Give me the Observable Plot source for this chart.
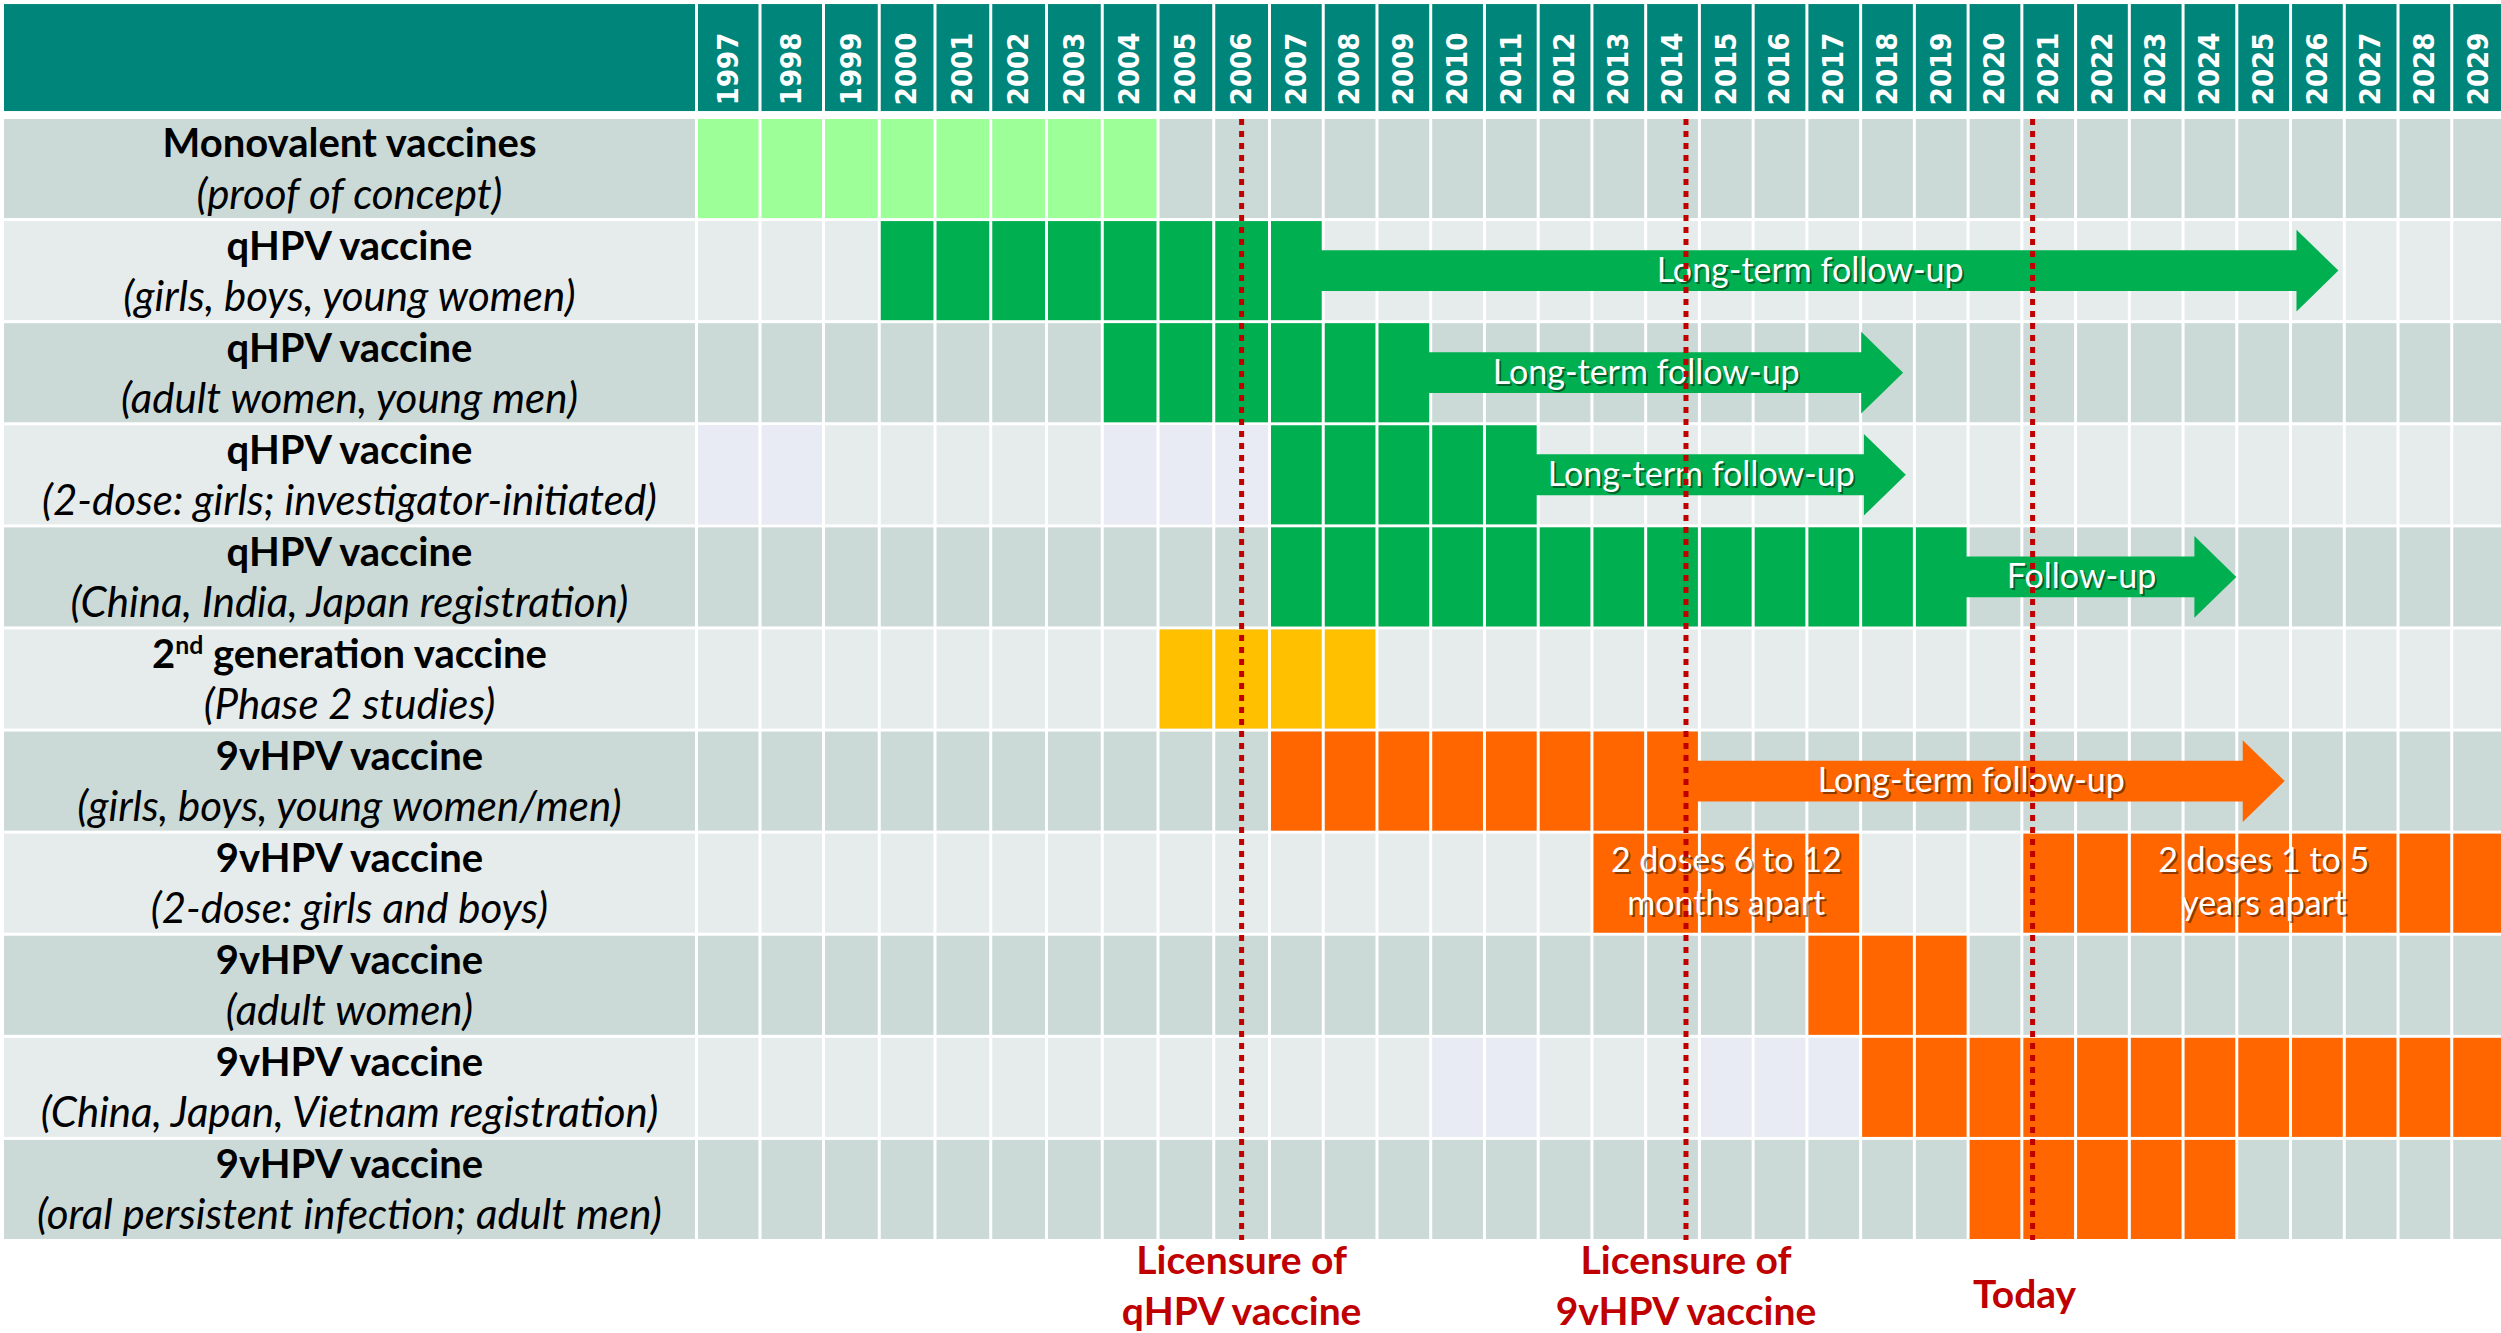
<!DOCTYPE html>
<html>
<head>
<meta charset="utf-8">
<script src="https://cdn.jsdelivr.net/npm/d3@7"></script>
<script src="https://cdn.jsdelivr.net/npm/@observablehq/plot@0.6"></script>
<style>
  html, body { margin: 0; padding: 0; background: #ffffff; }
  #chart svg { display: block; }
</style>
</head>
<body>
<div id="chart"></div>
<script>
// ---------------- DATA ----------------
const years = d3.range(1997, 2030);   // column headers 1997 … 2029

const rowTitles = [
  "Monovalent vaccines", "qHPV vaccine", "qHPV vaccine", "qHPV vaccine", "qHPV vaccine",
  "2nd generation vaccine", "9vHPV vaccine", "9vHPV vaccine", "9vHPV vaccine", "9vHPV vaccine", "9vHPV vaccine"
];
const rowSubtitles = [
  "(proof of concept)", "(girls, boys, young women)", "(adult women, young men)",
  "(2-dose: girls; investigator-initiated)", "(China, India, Japan registration)", "(Phase 2 studies)",
  "(girls, boys, young women/men)", "(2-dose: girls and boys)", "(adult women)",
  "(China, Japan, Vietnam registration)", "(oral persistent infection; adult men)"
];

// study periods (row index, first year, last year inclusive, vaccine)
const studyRow  = [0, 1, 2, 3, 4, 5, 6, 7, 7, 8, 9, 10];
const studyFrom = [1997, 2000, 2004, 2007, 2007, 2005, 2007, 2013, 2021, 2017, 2018, 2020];
const studyTo   = [2004, 2007, 2009, 2011, 2019, 2008, 2014, 2017, 2029, 2019, 2029, 2024];
const studyType = ["mono", "qHPV", "qHPV", "qHPV", "qHPV", "gen2", "9vHPV", "9vHPV", "9vHPV", "9vHPV", "9vHPV", "9vHPV"];

// tinted (shaded) cells
const shadeRow  = [3, 3, 3, 3, 3, 9, 9, 9, 9, 9];
const shadeYear = [1997, 1998, 2004, 2005, 2006, 2010, 2011, 2015, 2016, 2017];

// follow-up arrows
const arrowRow   = [1, 2, 3, 4, 6];
const arrowFrom  = [2008, 2010, 2012, 2020, 2015];
const arrowTip   = [2026.9, 2018.8, 2018.85, 2025.0, 2025.9];
const arrowLabel = ["Long-term follow-up", "Long-term follow-up", "Long-term follow-up", "Follow-up", "Long-term follow-up"];
const arrowType  = ["qHPV", "qHPV", "qHPV", "qHPV", "9vHPV"];

// notes written over study blocks
const noteRow  = [7, 7];
const noteFrom = [2013, 2021];
const noteTo   = [2017, 2029];
const noteText = ["2 doses 6 to 12\nmonths apart", "2 doses 1 to 5\nyears apart"];

// milestones (dashed lines)
const eventYear  = [2006.5, 2014.75, 2021.2];
const eventLabel = ["Licensure of\nqHPV vaccine", "Licensure of\n9vHPV vaccine", "Today"];

// ---------------- STYLE ----------------
const colors = {mono: "#9DFF97", qHPV: "#00B050", gen2: "#FFC000", "9vHPV": "#FF6600", shade: "#E9EBF4"};
const TEAL = "#00857A", DARK_ROW = "#CBDAD7", LIGHT_ROW = "#E6ECEB", RED = "#C00000";
const FONT = "Lato, 'Open Sans', sans-serif";
const HEADER_TOP = -1.126, HEADER_BOTTOM = -0.078, YEAR_LABEL_Y = -0.14;
const MID = 0.485, SHAFT = 0.2, HEAD = 0.4, HEAD_LEN = 0.78;

// ---------------- DERIVED TABLES ----------------
const rows = rowTitles.map((t, i) => ({i, title: t, sub: rowSubtitles[i]}));
const cells = [];
shadeRow.forEach((r, k) => cells.push({row: r, year: shadeYear[k], type: "shade"}));
studyRow.forEach((r, k) => {
  for (let y = studyFrom[k]; y <= studyTo[k]; y++) cells.push({row: r, year: y, type: studyType[k]});
});
const arrowPts = [];
const arrows = arrowRow.map((r, k) => {
  const c = r + MID, base = arrowTip[k] - HEAD_LEN, s = arrowFrom[k] - 0.04, fill = colors[arrowType[k]];
  arrowPts.push(
    {id: k, fill, x: s, y1: c - SHAFT, y2: c + SHAFT},
    {id: k, fill, x: base, y1: c - SHAFT, y2: c + SHAFT},
    {id: k, fill, x: base, y1: c - HEAD, y2: c + HEAD},
    {id: k, fill, x: arrowTip[k], y1: c, y2: c}
  );
  return {x: (arrowFrom[k] + base) / 2, y: c, label: arrowLabel[k]};
});
const notes = noteRow.map((r, k) => ({x: (noteFrom[k] + noteTo[k] + 1) / 2, y: r + MID - 0.04, text: noteText[k]}));
const events = eventYear.map((y, k) => ({year: y, label: eventLabel[k]}));
const multiLineEvents = events.filter(d => d.label.includes("\n"));
const singleLineEvents = events.filter(d => !d.label.includes("\n"));

const eventText = {fill: RED, fontFamily: FONT, fontWeight: "bold", fontSize: 39, lineHeight: 1.3, lineAnchor: "middle"};

// ---------------- PLOT ----------------
const plot = Plot.plot({
  width: 2501,
  height: 1333,
  marginLeft: 4, marginRight: 0, marginTop: 0, marginBottom: 0,
  x: {type: "linear", domain: [1997, 1999, 2007, 2030], range: [696, 823, 1269, 2505], axis: null},
  y: {type: "linear", domain: [0, 11], range: [119, 1242], axis: null},
  color: {type: "identity"},
  style: {background: "#ffffff"},
  marks: [
    // header band
    Plot.rect([0], {y1: () => HEADER_TOP, y2: () => HEADER_BOTTOM, fill: TEAL}),
    // row backgrounds (label column + grid)
    Plot.rect(rows, {y1: d => d.i, y2: d => d.i + 1, insetBottom: 3, fill: d => d.i % 2 === 0 ? DARK_ROW : LIGHT_ROW}),
    // coloured cells
    Plot.rect(cells, {x1: "year", x2: d => d.year + 1, y1: "row", y2: d => d.row + 1, insetBottom: 3, fill: d => colors[d.type]}),
    // white column separators
    Plot.ruleX(d3.range(1997, 2031), {x: d => d, y1: () => HEADER_TOP - 0.02, y2: () => 11, stroke: "#ffffff", strokeWidth: 3}),
    // year labels
    Plot.text(years, {x: d => d + 0.5, y: () => YEAR_LABEL_Y, text: d => String(d), rotate: -90, textAnchor: "start",
      lineAnchor: "middle", fill: "#ffffff", fontFamily: "'DejaVu Sans Condensed', 'DejaVu Sans', sans-serif",
      fontWeight: "bold", fontSize: 29}),
    // follow-up arrows
    Plot.areaY(arrowPts, {x: "x", y1: "y1", y2: "y2", z: "id", fill: "fill", curve: "linear"}),
    // arrow labels (shadow + text)
    Plot.text(arrows, {x: "x", y: "y", text: "label", fill: "#000000", fillOpacity: 0.45, dx: 2, dy: 2,
      fontFamily: FONT, fontSize: 34, lineAnchor: "middle"}),
    Plot.text(arrows, {x: "x", y: "y", text: "label", fill: "#ffffff", fontFamily: FONT, fontSize: 34, lineAnchor: "middle"}),
    // notes
    Plot.text(notes, {x: "x", y: "y", text: "text", fill: "#000000", fillOpacity: 0.45, dx: 2, dy: 2,
      fontFamily: FONT, fontSize: 34, lineHeight: 1.26, lineAnchor: "middle"}),
    Plot.text(notes, {x: "x", y: "y", text: "text", fill: "#ffffff", fontFamily: FONT, fontSize: 34, lineHeight: 1.26, lineAnchor: "middle"}),
    // row labels
    Plot.text(rows, {y: d => d.i + 0.372, text: "title", frameAnchor: "left", dx: 345, textAnchor: "middle", lineAnchor: "bottom",
      fill: "#000000", fontFamily: FONT, fontWeight: "bold", fontSize: 40}),
    Plot.text(rows, {y: d => d.i + 0.872, text: "sub", frameAnchor: "left", dx: 345, textAnchor: "middle", lineAnchor: "bottom",
      fill: "#000000", fontFamily: FONT, fontStyle: "italic", fontSize: 42}),
    // milestone lines
    Plot.ruleX(events, {x: "year", y1: () => 0, y2: () => 10.98, stroke: RED, strokeWidth: 5, strokeDasharray: "6,6"}),
    Plot.text(multiLineEvents, {x: "year", y: () => 11.40, text: "label", ...eventText}),
    Plot.text(singleLineEvents, {x: "year", y: () => 11.40, text: "label", dx: -8, dy: 8, ...eventText})
  ]
});

// superscript for "2nd"
d3.select(plot).selectAll("text").filter(function() { return this.textContent === "2nd generation vaccine"; })
  .each(function() {
    const t = d3.select(this);
    t.text("");
    t.append("tspan").text("2");
    t.append("tspan").attr("font-size", "62%").attr("baseline-shift", "super").text("nd");
    t.append("tspan").text(" generation vaccine");
  });

document.getElementById("chart").appendChild(plot);
</script>
</body>
</html>
